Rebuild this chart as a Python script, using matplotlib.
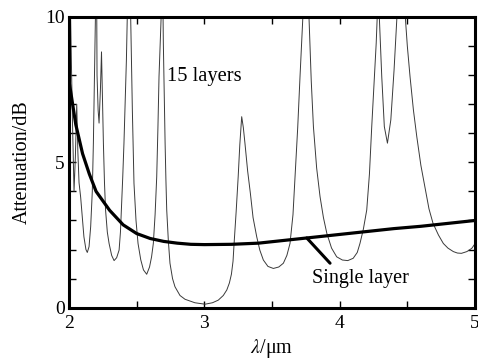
import numpy as np
import matplotlib
matplotlib.use("Agg")
import matplotlib.pyplot as plt
from matplotlib.ticker import MultipleLocator

# Single layer (thick curve)
single_x = [2.0, 2.05, 2.1, 2.15, 2.2, 2.3, 2.4, 2.5, 2.6, 2.7, 2.8, 2.9, 3.0,
            3.2, 3.4, 3.6, 3.8, 4.0, 4.2, 4.4, 4.6, 4.8, 5.0]
single_y = [7.8, 6.3, 5.3, 4.6, 4.0, 3.35, 2.85, 2.55, 2.38, 2.28, 2.22, 2.18, 2.17,
            2.18, 2.22, 2.32, 2.42, 2.52, 2.62, 2.72, 2.8, 2.9, 3.0]

# 15 layers (thin curve)
multi_x = [2.000, 2.012, 2.025, 2.037, 2.047, 2.057, 2.065, 2.074, 2.086, 2.11, 2.125,
           2.135, 2.148, 2.16, 2.172, 2.18, 2.19, 2.197, 2.202, 2.207, 2.215, 2.222,
           2.232, 2.24, 2.247, 2.254, 2.262, 2.27, 2.283, 2.296, 2.315, 2.333, 2.352,
           2.37, 2.38, 2.387, 2.397, 2.406, 2.416, 2.424, 2.43, 2.443, 2.456, 2.462,
           2.468, 2.48, 2.495, 2.51, 2.53, 2.55, 2.574, 2.595, 2.61, 2.623, 2.636,
           2.648, 2.657, 2.665, 2.68, 2.688, 2.697, 2.703, 2.71, 2.716, 2.722, 2.734,
           2.746, 2.765, 2.783, 2.82, 2.857, 2.93, 3.005, 3.06, 3.103, 3.14, 3.166,
           3.185, 3.2, 3.212, 3.22, 3.235, 3.25, 3.262, 3.276, 3.288, 3.30, 3.32,
           3.34, 3.36, 3.387, 3.41, 3.436, 3.47, 3.51, 3.55, 3.584, 3.61, 3.633,
           3.655, 3.67, 3.69, 3.707, 3.727, 3.75, 3.774, 3.79, 3.806, 3.83, 3.855,
           3.88, 3.905, 3.94, 3.978, 4.02, 4.06, 4.1, 4.13, 4.15, 4.175, 4.20, 4.22,
           4.237, 4.255, 4.27, 4.28, 4.286, 4.293, 4.311, 4.33, 4.353, 4.378, 4.402,
           4.422, 4.45, 4.485, 4.5, 4.52, 4.545, 4.57, 4.6, 4.63, 4.66, 4.69, 4.73,
           4.766, 4.80, 4.84, 4.87, 4.90, 4.94, 4.976, 5.0]
multi_y = [10.6, 9.9, 6.5, 4.0, 5.2, 7.0, 5.4, 4.3, 3.8, 2.44, 2.0,
           1.9, 2.1, 2.79, 4.0, 5.66, 8.5, 10.5, 13.0, 8.0, 6.8, 6.35,
           7.5, 8.8, 7.3, 5.66, 4.3, 3.36, 2.6, 2.21, 1.8, 1.62, 1.72,
           1.98, 2.6, 3.36, 4.5, 5.66, 7.2, 8.52, 9.9, 14.0, 9.9, 8.3,
           6.8, 4.28, 3.0, 2.21, 1.65, 1.3, 1.15, 1.4, 1.75, 2.21, 3.2,
           4.5, 6.2, 7.95, 9.9, 13.0, 9.1, 7.5, 5.66, 4.4, 3.36, 2.3,
           1.53, 1.0, 0.72, 0.42, 0.29, 0.17, 0.12, 0.17, 0.26, 0.42, 0.61,
           0.85, 1.15, 1.6, 2.22, 3.3, 4.5, 5.6, 6.57, 6.2, 5.66, 4.7,
           3.94, 3.1, 2.44, 1.98, 1.64, 1.42, 1.35, 1.4, 1.53, 1.8, 2.21,
           3.2, 4.5, 6.2, 7.95, 9.9, 14.0, 9.9, 7.8, 6.23, 4.8, 3.82,
           3.1, 2.56, 2.05, 1.75, 1.64, 1.62, 1.7, 1.9, 2.21, 2.7, 3.36, 4.6,
           6.23, 7.8, 9.1, 10.3, 12.0, 10.0, 7.95, 6.23, 5.66, 6.46, 8.18,
           9.9, 14.0, 10.0, 9.0, 7.95, 6.8, 5.88, 4.9, 4.16, 3.4, 2.9, 2.5,
           2.21, 2.05, 1.93, 1.88, 1.87, 1.93, 2.04, 2.2]

xticks = [2, 3, 4, 5]
yticks = [0, 5, 10]

plt.rcParams['font.family'] = ['Liberation Serif', 'DejaVu Serif']
plt.rcParams['mathtext.fontset'] = 'stix'

fig = plt.figure(figsize=(4.78, 3.6), dpi=100)
ax = fig.add_axes([0.1444, 0.1453, 0.8493, 0.8075])

ax.plot(multi_x, multi_y, color='#3a3a3a', lw=0.7)
ax.plot(single_x, single_y, color='black', lw=2.3, solid_capstyle='butt')

ax.set_xlim(2, 5)
ax.set_ylim(0, 10)
ax.set_xticks(xticks)
ax.set_yticks(yticks)
ax.xaxis.set_minor_locator(MultipleLocator(0.5))
ax.yaxis.set_minor_locator(MultipleLocator(1))
ax.tick_params(which='both', direction='in', top=True, right=True,
               width=1.0, labelsize=14, colors='black')
ax.tick_params(which='major', length=5)
ax.tick_params(which='minor', length=5)
ax.tick_params(axis='x', pad=5)
ax.tick_params(axis='y', pad=3)
for s in ax.spines.values():
    s.set_linewidth(2.2)

ax.set_ylabel('Attenuation/dB', fontsize=14.5, labelpad=10)
ax.set_xlabel(r'$\lambda$/μm', fontsize=14.5, labelpad=4)

ax.text(2.724, 7.97, '15 layers', fontsize=14.8, va='center', ha='left')

px = 3.757
py = float(np.interp(px, single_x, single_y))
ax.annotate('', xy=(px, py), xytext=(3.929, 1.53),
            arrowprops=dict(arrowstyle='-', lw=2.2, color='black',
                            shrinkA=0, shrinkB=0))
ax.text(3.796, 0.99, 'Single layer', fontsize=14.5, va='center', ha='left')

fig.savefig('out.png', dpi=100)
